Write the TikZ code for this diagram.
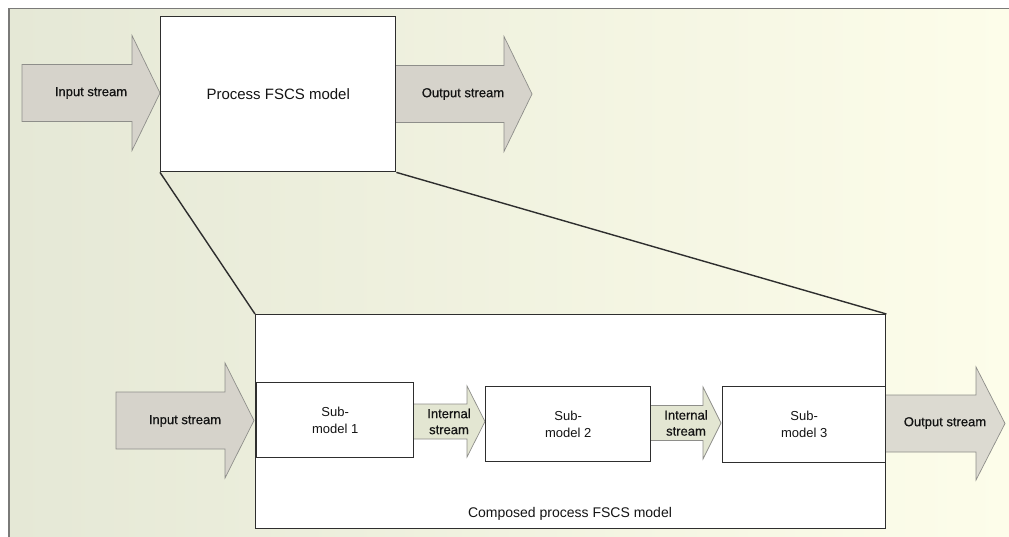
\documentclass[tikz,border=0pt]{standalone}
\usepackage{fontspec}
\setmainfont{Liberation Sans}
\newfontfamily\streamfont[FakeBold=0.5]{Liberation Sans}
\definecolor{bgL}{HTML}{E5E8D6}
\definecolor{bgR}{HTML}{FDFDEA}
\definecolor{frameC}{HTML}{7A7A78}
\definecolor{edgeC}{HTML}{2E2E2E}
\definecolor{arrowEdge}{HTML}{8E8E8A}
\definecolor{bigFill}{HTML}{D6D3CB}
\definecolor{outFill}{HTML}{DCDAD1}
\definecolor{innerFill}{HTML}{E3E6D2}
\definecolor{inkC}{HTML}{141414}
% fat block arrow: style, x start, x head base, x tip, y centre, shaft half-width, head half-width
\newcommand\streamarrow[7]{%
  \draw[#1] (#2,#5-#6) -- (#3,#5-#6) -- (#3,#5-#7) -- (#4,#5)
    -- (#3,#5+#7) -- (#3,#5+#6) -- (#2,#5+#6) -- cycle;}
\begin{document}
\begin{tikzpicture}[x=1pt,y=-1pt,
  box/.style={draw=edgeC, line width=1.4pt, fill=white, inner sep=0pt,
    anchor=north west, text=inkC, align=center, font=\fontsize{13}{17}\selectfont},
  link/.style={draw=edgeC, line width=1.4pt},
  bigarrow/.style={draw=arrowEdge, line width=0.7pt, fill=bigFill},
  outarrow/.style={draw=arrowEdge, line width=0.7pt, fill=outFill},
  innerarrow/.style={draw=arrowEdge, line width=0.7pt, fill=innerFill},
  lbl/.style={text=inkC, align=center, inner sep=0pt, font=\streamfont\fontsize{13}{16}\selectfont}]
\useasboundingbox (0,0) rectangle (1009,537);
% page background and frame
\shade[left color=bgL, right color=bgR] (9,8.5) rectangle (1009,537);
\draw[frameC, line width=1.3pt] (9,537) -- (9,8.5) -- (1009,8.5);

% top level: single process model
\streamarrow{bigarrow}{22}{132}{160}{93}{28.5}{57.5}
\streamarrow{bigarrow}{395}{504}{532}{94}{28.5}{57.5}
\node[box, minimum width=235pt, minimum height=155pt,
  font=\fontsize{15}{18}\selectfont] (proc) at (160,16) {Process FSCS model};
\node[lbl] (inTop) at (91,93) {Input stream};
\node[lbl] (outTop) at (463,94) {Output stream};

% composed model
\node[box, minimum width=630pt, minimum height=214pt] (comp) at (255,314) {};
\node[text=inkC, inner sep=0pt, font=\fontsize{14}{17}\selectfont] (compLbl) at (570,514) {Composed process FSCS model};
\draw[link] (proc.south west) -- (comp.north west);
\draw[link] (proc.south east) -- (comp.north east);

\streamarrow{bigarrow}{116}{225}{254}{420.5}{28.5}{57.5}
\streamarrow{innerarrow}{413}{467}{485}{421.5}{17.5}{35.5}
\streamarrow{innerarrow}{650}{703}{721}{423}{17.5}{36}
\streamarrow{outarrow}{885}{976}{1005}{423.5}{28.5}{56.5}

\node[box, minimum width=157pt, minimum height=75pt] (sub1) at (256,382) {Sub-\\model 1};
\node[box, minimum width=165pt, minimum height=75pt] (sub2) at (485,386) {Sub-\\model 2};
\node[box, minimum width=163pt, minimum height=76pt] (sub3) at (722,386) {Sub-\\model 3};

\node[lbl] (inLow) at (185,421) {Input stream};
\node[lbl] (int1) at (449,421.5) {Internal\\stream};
\node[lbl] (int2) at (686,423) {Internal\\stream};
\node[lbl] (outLow) at (945,423) {Output stream};
\end{tikzpicture}
\end{document}
